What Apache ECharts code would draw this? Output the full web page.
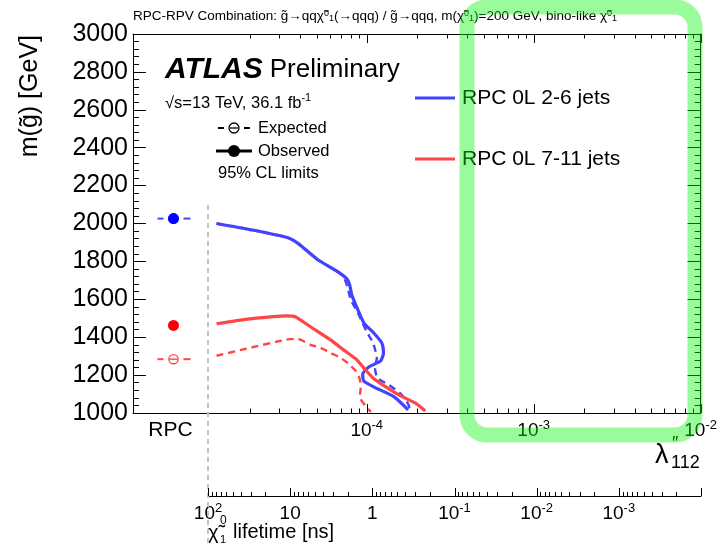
<!DOCTYPE html>
<html><head><meta charset="utf-8">
<script src="https://cdn.jsdelivr.net/npm/echarts@6/dist/echarts.min.js"></script>
<style>html,body{margin:0;padding:0;background:#fff}#c{width:720px;height:544px}</style>
</head><body><div id="c"></div>
<script>
const FONT = '"Liberation Sans", Arial, Helvetica, sans-serif';

// ---------------- data ----------------
const seriesNames = ['RPC 0L 2-6 jets', 'RPC 0L 7-11 jets'];
// RPC (prompt) limits, m(gluino) in GeV
const rpcCategory = ['RPC'];
const rpcObserved = [2026, 1462];
const rpcExpected = [2026, 1284];

// RPV lambda''_112 scans
const blueObsLambda = [1.26e-5, 2.00e-5, 3.34e-5, 3.89e-5, 5.07e-5, 6.69e-5, 7.58e-5, 7.90e-5, 8.13e-5, 8.59e-5, 9.60e-5, 1.10e-4, 1.23e-4, 1.26e-4, 1.21e-4, 1.03e-4, 9.46e-5, 9.60e-5, 1.10e-4, 1.46e-4, 1.77e-4];
const blueObsMass   = [2000, 1968, 1926, 1894, 1810, 1746, 1709, 1677, 1624, 1571, 1476, 1423, 1370, 1317, 1275, 1243, 1206, 1169, 1138, 1085, 1016];
const blueExpLambda = [1.26e-5, 2.00e-5, 3.34e-5, 3.89e-5, 5.07e-5, 6.69e-5, 7.26e-5, 7.69e-5, 8.02e-5, 8.84e-5, 1.00e-4, 1.09e-4, 1.15e-4, 1.12e-4, 1.16e-4, 1.36e-4, 1.60e-4, 1.77e-4, 1.82e-4];
const blueExpMass   = [2000, 1968, 1926, 1894, 1810, 1746, 1720, 1661, 1598, 1529, 1429, 1370, 1291, 1238, 1185, 1148, 1101, 1048, 1011];
const redObsLambda  = [1.26e-5, 2.00e-5, 3.34e-5, 3.73e-5, 4.60e-5, 6.07e-5, 7.26e-5, 8.59e-5, 9.60e-5, 1.09e-4, 1.30e-4, 1.60e-4, 1.95e-4, 2.24e-4];
const redObsMass    = [1471, 1497, 1513, 1508, 1455, 1386, 1333, 1286, 1238, 1185, 1138, 1090, 1053, 1011];
const redExpLambda  = [1.26e-5, 2.00e-5, 3.25e-5, 3.84e-5, 4.60e-5, 5.28e-5, 6.07e-5, 6.97e-5, 7.80e-5, 8.59e-5, 9.08e-5, 9.20e-5, 9.08e-5, 9.73e-5, 1.06e-4];
const redExpMass    = [1302, 1344, 1386, 1392, 1360, 1344, 1317, 1291, 1259, 1222, 1180, 1132, 1085, 1042, 1005];

// axes
const massMin = 1000, massMax = 3000, massStep = 200;
const lambdaMin = 1.12e-5, lambdaMax = 1e-2;
const lambdaMajorTicks = [1e-4, 1e-3, 1e-2];
const lambdaLabels = [1e-4, 1e-3, 1e-2];
const lambdaMinorTicks = [2e-5, 3e-5, 4e-5, 5e-5, 6e-5, 7e-5, 8e-5, 9e-5,
  2e-4, 3e-4, 4e-4, 5e-4, 6e-4, 7e-4, 8e-4, 9e-4,
  2e-3, 3e-3, 4e-3, 5e-3, 6e-3, 7e-3, 8e-3, 9e-3];
const lifeMin = 1e-4, lifeMax = 1e2;
const lifeMajorTicks = [1e2, 1e1, 1, 1e-1, 1e-2, 1e-3, 1e-4];
const lifeLabels = [1e2, 1e1, 1, 1e-1, 1e-2, 1e-3];
const lifeMinorTicks = [90, 80, 70, 60, 50, 40, 30, 20,
  9, 8, 7, 6, 5, 4, 3, 2,
  0.9, 0.8, 0.7, 0.6, 0.5, 0.4, 0.3, 0.2,
  0.09, 0.08, 0.07, 0.06, 0.05, 0.04, 0.03, 0.02,
  0.009, 0.008, 0.007, 0.006, 0.005, 0.004, 0.003, 0.002,
  0.0009, 0.0008, 0.0007, 0.0006, 0.0005, 0.0004, 0.0003, 0.0002];

// ---------------- style ----------------
const BLUE = '#4343ff', RED = '#ff4545';
const BLUE_M = '#0000ff', RED_M = '#ff0000';
const GL = 133, GX = 208, GR = 701, GT = 34, GB = 413, LIFE_Y = 496;

const lg = v => Math.log10(v);
const zip = (a, b) => a.map((v, i) => [lg(v), b[i]]);
const tickData = (major, minor, yAnchor) =>
  major.map(v => [lg(v), yAnchor, 1]).concat(minor.map(v => [lg(v), yAnchor, 0]));
function powLabel(e, plainSmall) {
  e = Math.round(e);
  if (plainSmall && e === 0) return '{b|1}';
  if (plainSmall && e === 1) return '{b|10}';
  return '{b|10}{s|' + e + '}';
}
const powRich = {
  b: {fontSize: 19, lineHeight: 19, padding: [5, 0, 0, 0], color: '#000', fontFamily: FONT},
  s: {fontSize: 13, lineHeight: 13, verticalAlign: 'top', color: '#000', fontFamily: FONT}
};
const black = {color: '#000', width: 1};

function rpcItem(lineColor, markColor, filled, dashed) {
  return function (params, api) {
    const p = api.coord([api.value(0), api.value(1)]);
    const cx = p[0] + 3, cy = p[1];
    const ch = [];
    if (dashed) {
      ch.push({type: 'line', shape: {x1: cx - 16, y1: cy, x2: cx - 10, y2: cy}, style: {stroke: lineColor, lineWidth: 2}});
      ch.push({type: 'line', shape: {x1: cx + 10, y1: cy, x2: cx + 17, y2: cy}, style: {stroke: lineColor, lineWidth: 2}});
    }
    if (filled) {
      ch.push({type: 'circle', shape: {cx: cx, cy: cy, r: 5.5}, style: {fill: markColor}});
    } else {
      ch.push({type: 'circle', shape: {cx: cx, cy: cy, r: 4.6}, style: {fill: '#fff', stroke: lineColor, lineWidth: 1.4}});
      ch.push({type: 'line', shape: {x1: cx - 4, y1: cy, x2: cx + 4, y2: cy}, style: {stroke: lineColor, lineWidth: 1.4}});
    }
    return {type: 'group', children: ch};
  };
}
// inward ticks; dir -1 = upwards from anchor, +1 = downwards
function tickItem(majorLen, minorLen, dir) {
  return function (params, api) {
    const len = api.value(2) ? majorLen : minorLen;
    const p = api.coord([api.value(0), api.value(1)]);
    const px = Math.round(p[0]) + 0.5;
    return {type: 'line', shape: {x1: px, y1: p[1], x2: px, y2: p[1] + dir * len},
            style: {stroke: '#000', lineWidth: 1}};
  };
}

function logX(kind, grid, pos, labels, visible) {
  const life = kind === 'life';
  return {
    type: 'value', gridIndex: grid, position: pos, show: visible,
    min: lg(life ? lifeMin : lambdaMin), max: lg(life ? lifeMax : lambdaMax),
    inverse: life,
    axisLine: {show: true, lineStyle: black},
    axisTick: {show: false},
    axisLabel: labels ? {
      show: true, customValues: labels.map(lg), margin: 6,
      formatter: v => powLabel(v, life), rich: powRich
    } : {show: false},
    splitLine: {show: false}, minorTick: {show: false}
  };
}

const chart = echarts.init(document.getElementById('c'), null, {width: 720, height: 544});
const option = {
  animation: false,
  backgroundColor: '#fff',
  textStyle: {fontFamily: FONT},
  grid: [
    {left: GL, top: GT, width: GX - GL, height: GB - GT},
    {left: GX, top: GT, width: GR - GX, height: GB - GT},
    {left: GX, top: LIFE_Y - 10, width: GR - GX, height: 10},
    {left: GX, top: GT, width: GR - GX, height: GB - GT}
  ],
  xAxis: [
    {type: 'category', gridIndex: 0, position: 'bottom', data: rpcCategory,
     axisLine: {lineStyle: black}, axisTick: {show: false},
     axisLabel: {fontSize: 21, color: '#000', margin: 7, fontFamily: FONT}},
    {type: 'category', gridIndex: 0, position: 'top', data: rpcCategory,
     axisLine: {lineStyle: black}, axisTick: {show: false}, axisLabel: {show: false}},
    logX('lam', 1, 'bottom', lambdaLabels, true),
    logX('lam', 1, 'top', null, true),
    logX('life', 2, 'bottom', lifeLabels, true),
    logX('lam', 3, 'bottom', null, false)
  ],
  yAxis: [
    {type: 'value', gridIndex: 0, position: 'left', min: massMin, max: massMax, interval: massStep,
     axisLine: {show: true, lineStyle: black},
     axisTick: {show: true, inside: true, length: 13, lineStyle: black},
     minorTick: {show: true, splitNumber: 5, length: 6, lineStyle: black},
     axisLabel: {fontSize: 25, color: '#000', margin: 5, fontFamily: FONT, formatter: v => String(v)},
     splitLine: {show: false}},
    {type: 'value', gridIndex: 1, position: 'right', min: massMin, max: massMax, interval: massStep,
     axisLine: {show: true, lineStyle: black},
     axisTick: {show: true, inside: true, length: 13, lineStyle: black},
     minorTick: {show: true, splitNumber: 5, length: 6, lineStyle: black},
     axisLabel: {show: false}, splitLine: {show: false}},
    {type: 'value', gridIndex: 2, show: false, min: 0, max: 1},
    {type: 'value', gridIndex: 3, show: false, min: 0, max: 1}
  ],
  legend: {
    data: seriesNames, orient: 'vertical', left: 415, top: 87, padding: 0,
    itemWidth: 40, itemHeight: 3, itemGap: 39, icon: 'rect', selectedMode: false,
    textStyle: {fontSize: 21, lineHeight: 22, color: '#000', fontFamily: FONT, padding: [0, 0, 0, 2]}
  },
  series: [
    {name: 'lifetime ticks', type: 'custom', xAxisIndex: 4, yAxisIndex: 2, silent: true,
     encode: {x: 0, y: 1}, data: tickData(lifeMajorTicks, lifeMinorTicks, 0),
     renderItem: tickItem(8, 4, -1), z: 50},
    {name: 'lambda ticks bottom', type: 'custom', xAxisIndex: 5, yAxisIndex: 3, silent: true,
     encode: {x: 0, y: 1}, data: tickData(lambdaMajorTicks, lambdaMinorTicks, 0),
     renderItem: tickItem(9, 4.5, -1), z: 50},
    {name: 'lambda ticks top', type: 'custom', xAxisIndex: 5, yAxisIndex: 3, silent: true,
     encode: {x: 0, y: 1}, data: tickData(lambdaMajorTicks, lambdaMinorTicks, 1),
     renderItem: tickItem(9, 4.5, 1), z: 50},
    {name: seriesNames[0] + ' exp', type: 'line', xAxisIndex: 2, yAxisIndex: 1, data: zip(blueExpLambda, blueExpMass),
     showSymbol: false, smooth: 0.2, color: BLUE, lineStyle: {color: BLUE, width: 2.4, type: [7, 5]}, z: 3},
    {name: seriesNames[0], type: 'line', xAxisIndex: 2, yAxisIndex: 1, data: zip(blueObsLambda, blueObsMass),
     showSymbol: false, smooth: 0.2, color: BLUE, lineStyle: {color: BLUE, width: 3.2}, z: 4},
    {name: seriesNames[1] + ' exp', type: 'line', xAxisIndex: 2, yAxisIndex: 1, data: zip(redExpLambda, redExpMass),
     showSymbol: false, smooth: 0.2, color: RED, lineStyle: {color: RED, width: 2.4, type: [7, 5]}, z: 3},
    {name: seriesNames[1], type: 'line', xAxisIndex: 2, yAxisIndex: 1, data: zip(redObsLambda, redObsMass),
     showSymbol: false, smooth: 0.2, color: RED, lineStyle: {color: RED, width: 3.2}, z: 4},
    {name: 'RPC exp blue', type: 'custom', xAxisIndex: 0, yAxisIndex: 0,
     data: [[rpcCategory[0], rpcExpected[0]]], renderItem: rpcItem(BLUE, BLUE_M, false, true), z: 5},
    {name: 'RPC obs blue', type: 'custom', xAxisIndex: 0, yAxisIndex: 0,
     data: [[rpcCategory[0], rpcObserved[0]]], renderItem: rpcItem(BLUE, BLUE_M, true, false), z: 6},
    {name: 'RPC exp red', type: 'custom', xAxisIndex: 0, yAxisIndex: 0,
     data: [[rpcCategory[0], rpcExpected[1]]], renderItem: rpcItem(RED, RED_M, false, true), z: 5},
    {name: 'RPC obs red', type: 'custom', xAxisIndex: 0, yAxisIndex: 0,
     data: [[rpcCategory[0], rpcObserved[1]]], renderItem: rpcItem(RED, RED_M, true, false), z: 6}
  ],
  graphic: [
    // separator between RPC and RPV parts
    {type: 'line', z: 1, shape: {x1: GX, y1: 205, x2: GX, y2: 544},
     style: {stroke: '#c4c4c4', lineWidth: 2, lineDash: [5, 4]}},
    // header
    {type: 'text', x: GL, y: 16, style: {
      text: '{n|RPC-RPV Combination: g\u0303\u2192qq\u03c7\u0303}{u|0}{d|1}{n|(\u2192qqq) / g\u0303\u2192qqq, m(\u03c7\u0303}{u|0}{d|1}{n|)=200 GeV, bino-like \u03c7\u0303}{u|0}{d|1}',
      verticalAlign: 'middle',
      rich: {n: {fontSize: 13.5, lineHeight: 14, padding: [3, 0, 3, 0], fill: '#000', fontFamily: FONT},
             u: {fontSize: 9, lineHeight: 9, verticalAlign: 'top', fill: '#000', fontFamily: FONT},
             d: {fontSize: 9, lineHeight: 9, verticalAlign: 'bottom', fill: '#000', fontFamily: FONT}}}},
    // ATLAS label
    {type: 'text', x: 165, y: 70, style: {
      text: '{a|ATLAS}{p|Preliminary}', verticalAlign: 'middle',
      rich: {a: {fontSize: 30, fontWeight: 'bold', fontStyle: 'italic', fill: '#000', fontFamily: FONT},
             p: {fontSize: 26, fill: '#000', fontFamily: FONT, padding: [0, 0, 0, 7]}}}},
    {type: 'text', x: 165, y: 101, style: {
      text: '{t|\u221as=13 TeV, 36.1 fb}{s|-1}', verticalAlign: 'middle',
      rich: {t: {fontSize: 16.5, lineHeight: 17, padding: [4, 0, 0, 0], fill: '#000', fontFamily: FONT},
             s: {fontSize: 11, lineHeight: 11, verticalAlign: 'top', fill: '#000', fontFamily: FONT}}}},
    // expected / observed key
    {type: 'line', shape: {x1: 218, y1: 128, x2: 224, y2: 128}, style: {stroke: '#000', lineWidth: 2}},
    {type: 'line', shape: {x1: 244, y1: 128, x2: 250, y2: 128}, style: {stroke: '#000', lineWidth: 2}},
    {type: 'circle', shape: {cx: 234, cy: 128, r: 5}, style: {fill: 'none', stroke: '#000', lineWidth: 1.3}},
    {type: 'line', shape: {x1: 230, y1: 128, x2: 238, y2: 128}, style: {stroke: '#000', lineWidth: 1.3}},
    {type: 'text', x: 258, y: 128, style: {text: 'Expected', fontSize: 16.5, fill: '#000', verticalAlign: 'middle', fontFamily: FONT}},
    {type: 'line', shape: {x1: 216, y1: 151, x2: 252, y2: 151}, style: {stroke: '#000', lineWidth: 3}},
    {type: 'circle', shape: {cx: 234, cy: 151, r: 6}, style: {fill: '#000'}},
    {type: 'text', x: 258, y: 151, style: {text: 'Observed', fontSize: 16.5, fill: '#000', verticalAlign: 'middle', fontFamily: FONT}},
    {type: 'text', x: 218, y: 173, style: {text: '95% CL limits', fontSize: 16.5, fill: '#000', verticalAlign: 'middle', fontFamily: FONT}},
    // axis titles
    {type: 'text', x: 30, y: 35, rotation: Math.PI / 2, style: {
      text: 'm(g\u0303) [GeV]', fontSize: 25, fill: '#000', align: 'right', verticalAlign: 'middle', fontFamily: FONT}},
    {type: 'text', x: 655, y: 456, style: {text: '\u03bb', fontSize: 27, fill: '#000', verticalAlign: 'middle', fontFamily: FONT}},
    {type: 'text', x: 672, y: 444, style: {text: '\u2033', fontSize: 18, fill: '#000', verticalAlign: 'middle', fontFamily: FONT}},
    {type: 'text', x: 671, y: 463, style: {text: '112', fontSize: 18, fill: '#000', verticalAlign: 'middle', fontFamily: FONT}},
    {type: 'text', x: 208, y: 533, style: {text: '\u03c7\u0303', fontSize: 20, fill: '#000', verticalAlign: 'middle', fontFamily: FONT}},
    {type: 'text', x: 220, y: 521, style: {text: '0', fontSize: 12, fill: '#000', verticalAlign: 'middle', fontFamily: FONT}},
    {type: 'text', x: 220, y: 540, style: {text: '1', fontSize: 11, fill: '#000', verticalAlign: 'middle', fontFamily: FONT}},
    {type: 'text', x: 233, y: 532, style: {text: 'lifetime [ns]', fontSize: 20, fill: '#000', verticalAlign: 'middle', fontFamily: FONT}},
    // highlight box
    {type: 'rect', z: 100, shape: {x: 467, y: 7, width: 228, height: 428, r: 20},
     style: {fill: 'none', stroke: 'rgba(10,245,10,0.41)', lineWidth: 15}}
  ]
};
chart.setOption(option);
</script></body></html>
